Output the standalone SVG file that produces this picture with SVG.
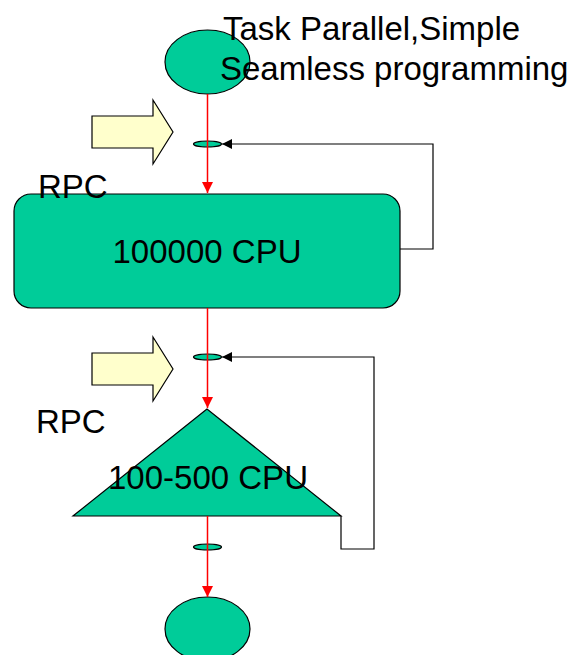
<svg xmlns="http://www.w3.org/2000/svg" width="584" height="655" viewBox="0 0 584 655">
<style>
.node{fill:#00CC99;stroke:#000;stroke-width:1.2}
.big{fill:#FFFFCC;stroke:#000;stroke-width:1.2}
.red{fill:none;stroke:#FF0000;stroke-width:1.5}
.blk{fill:none;stroke:#000;stroke-width:1.2}
.t{font-family:"Liberation Sans",Arial,sans-serif;font-size:33px;fill:#000}
</style>
<defs>
<marker id="ra" markerUnits="userSpaceOnUse" markerWidth="12" markerHeight="11" refX="11" refY="5.5" orient="auto">
<path d="M0,0 L11,5.5 L0,11 Z" fill="#FF0000"/>
</marker>
<marker id="ba" markerUnits="userSpaceOnUse" markerWidth="11" markerHeight="11" refX="10" refY="5" orient="auto">
<path d="M0,0 L10,5 L0,10 Z" fill="#000"/>
</marker>
</defs>
<g id="start"><ellipse class="node" cx="207.5" cy="62" rx="42.5" ry="32"/></g>
<g id="cpu100000"><rect class="node" x="14" y="194" width="386" height="114" rx="17" ry="17"/><text class="t" x="207" y="263" text-anchor="middle">100000 CPU</text></g>
<g id="cpu100-500"><polygon class="node" points="207,409 73,516 341,516"/><text class="t" x="208" y="489" text-anchor="middle">100-500 CPU</text></g>
<g id="end"><ellipse class="node" cx="207.5" cy="629" rx="42.5" ry="32"/></g>
<g id="j1"><ellipse class="node" cx="207.5" cy="144" rx="14" ry="3"/></g>
<g id="j2"><ellipse class="node" cx="207.5" cy="357" rx="14" ry="3"/></g>
<g id="j3"><ellipse class="node" cx="207.5" cy="547" rx="14" ry="3"/></g>
<g id="arrow1"><polygon class="big" points="92,116 153,116 153,100 173,132 153,164 153,148 92,148"/></g>
<g id="arrow2"><polygon class="big" points="92,353 153,353 153,337 173,369 153,401 153,385 92,385"/></g>
<g id="connectors">
<line class="red" x1="207.5" y1="94" x2="207.5" y2="193" marker-end="url(#ra)"/>
<line class="red" x1="207.5" y1="308" x2="207.5" y2="408" marker-end="url(#ra)"/>
<line class="red" x1="207.5" y1="516" x2="207.5" y2="597" marker-end="url(#ra)"/>
<polyline class="blk" points="400,249 433,249 433,144 222,144" marker-end="url(#ba)"/>
<polyline class="blk" points="341,516 341,549 374,549 374,357 222,357" marker-end="url(#ba)"/>
</g>
<g id="labels">
<text class="t" x="223" y="40">Task Parallel,Simple</text>
<text class="t" x="220" y="80">Seamless programming</text>
<text class="t" x="38" y="198">RPC</text>
<text class="t" x="36" y="433">RPC</text>
</g>
</svg>
